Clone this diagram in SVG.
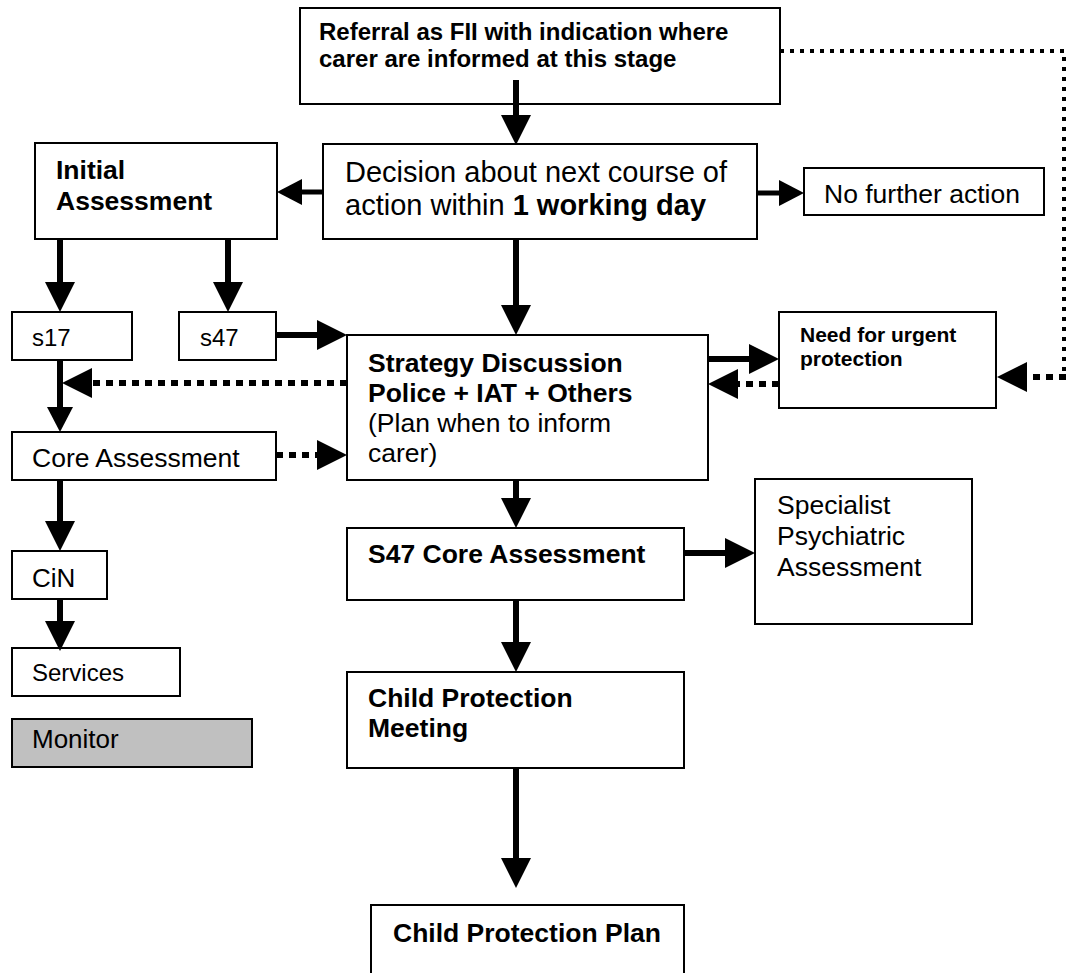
<svg xmlns="http://www.w3.org/2000/svg" width="1066" height="973" viewBox="0 0 1066 973">
<style>
  .box { fill: #ffffff; stroke: #000000; stroke-width: 2; }
  .grey { fill: #c0c0c0; }
  text { font-family: "Liberation Sans", Arial, sans-serif; fill: #000000; }
  .b { font-weight: bold; }
  .solid { fill: none; stroke: #000000; stroke-width: 6; }
  .thin { fill: none; stroke: #000000; stroke-width: 5; }
  .dot { fill: none; stroke: #000000; stroke-width: 6; stroke-dasharray: 7 6; }
  .dotthin { fill: none; stroke: #000000; stroke-width: 4; stroke-dasharray: 4 6; }
</style>
<defs>
  <marker id="big" markerUnits="userSpaceOnUse" viewBox="0 0 30 30" markerWidth="30" markerHeight="30" refX="0" refY="15" orient="auto" overflow="visible">
    <path d="M0,0 L30,15 L0,30 Z" fill="#000000"/>
  </marker>
  <marker id="small" markerUnits="userSpaceOnUse" viewBox="0 0 25 26" markerWidth="25" markerHeight="26" refX="0" refY="13" orient="auto" overflow="visible">
    <path d="M0,0 L25,13 L0,26 Z" fill="#000000"/>
  </marker>
</defs>
<rect x="0" y="0" width="1066" height="973" fill="#ffffff"/>

<g id="referral">
  <rect class="box" x="300" y="8" width="480" height="96"/>
  <text class="b" x="319" y="40" font-size="24">Referral as FII with indication where</text>
  <text class="b" x="319" y="67" font-size="24">carer are informed at this stage</text>
</g>
<g id="decision">
  <rect class="box" x="323" y="144" width="434" height="95"/>
  <text x="345" y="182" font-size="29">Decision about next course of</text>
  <text x="345" y="215" font-size="29">action within <tspan class="b">1 working day</tspan></text>
</g>
<g id="initial">
  <rect class="box" x="35" y="143" width="242" height="96"/>
  <text class="b" x="56" y="179" font-size="26.5">Initial</text>
  <text class="b" x="56" y="210" font-size="26.5">Assessment</text>
</g>
<g id="nfa">
  <rect class="box" x="804" y="168" width="240" height="47"/>
  <text x="824" y="203" font-size="26.5">No further action</text>
</g>
<g id="s17">
  <rect class="box" x="12" y="312" width="120" height="48"/>
  <text x="32" y="346" font-size="24">s17</text>
</g>
<g id="s47">
  <rect class="box" x="179" y="312" width="97" height="48"/>
  <text x="200" y="346" font-size="24">s47</text>
</g>
<g id="strategy">
  <rect class="box" x="347" y="335" width="361" height="145"/>
  <text class="b" x="368" y="372" font-size="26.5">Strategy Discussion</text>
  <text class="b" x="368" y="402" font-size="26.5">Police + IAT + Others</text>
  <text x="368" y="432" font-size="26.5">(Plan when to inform</text>
  <text x="368" y="462" font-size="26.5">carer)</text>
</g>
<g id="urgent">
  <rect class="box" x="779" y="312" width="217" height="96"/>
  <text class="b" x="800" y="342" font-size="21">Need for urgent</text>
  <text class="b" x="800" y="366" font-size="21">protection</text>
</g>
<g id="core">
  <rect class="box" x="12" y="432" width="264" height="48"/>
  <text x="32" y="467" font-size="26.5">Core Assessment</text>
</g>
<g id="cin">
  <rect class="box" x="12" y="551" width="95" height="48"/>
  <text x="32" y="587" font-size="26">CiN</text>
</g>
<g id="services">
  <rect class="box" x="12" y="648" width="168" height="48"/>
  <text x="32" y="681" font-size="24">Services</text>
</g>
<g id="monitor">
  <rect class="box grey" x="12" y="719" width="240" height="48"/>
  <text x="32" y="748" font-size="26">Monitor</text>
</g>
<g id="s47core">
  <rect class="box" x="347" y="528" width="337" height="72"/>
  <text class="b" x="368" y="563" font-size="26.5">S47 Core Assessment</text>
</g>
<g id="specialist">
  <rect class="box" x="755" y="479" width="217" height="145"/>
  <text x="777" y="514" font-size="26.5">Specialist</text>
  <text x="777" y="545" font-size="26.5">Psychiatric</text>
  <text x="777" y="576" font-size="26.5">Assessment</text>
</g>
<g id="cpm">
  <rect class="box" x="347" y="672" width="337" height="96"/>
  <text class="b" x="368" y="707" font-size="26.5">Child Protection</text>
  <text class="b" x="368" y="737" font-size="26.5">Meeting</text>
</g>
<g id="cpp">
  <rect class="box" x="371" y="905" width="313" height="80"/>
  <text class="b" x="393" y="942" font-size="26.5">Child Protection Plan</text>
</g>

<g id="connectors">
  <path class="solid" d="M516,80 V115" marker-end="url(#big)"/>
  <path class="thin" d="M323,192 H302" marker-end="url(#small)"/>
  <path class="thin" d="M757,193 H779" marker-end="url(#small)"/>
  <path class="solid" d="M516,239 V305" marker-end="url(#big)"/>
  <path class="solid" d="M60,239 V282" marker-end="url(#big)"/>
  <path class="solid" d="M228,239 V282" marker-end="url(#big)"/>
  <path class="solid" d="M276,335 H317" marker-end="url(#big)"/>
  <path class="dot" d="M347,383 H92" marker-end="url(#big)"/>
  <path class="solid" d="M60,360 V407" marker-end="url(#small)"/>
  <path class="dot" d="M276,455 H317" marker-end="url(#big)"/>
  <path class="solid" d="M60,480 V521" marker-end="url(#big)"/>
  <path class="solid" d="M60,599 V621" marker-end="url(#big)"/>
  <path class="solid" d="M708,359 H749" marker-end="url(#big)"/>
  <path class="dot" d="M779,384 H738" marker-end="url(#big)"/>
  <path class="dotthin" d="M780,51 H1064 V377"/>
  <path class="dot" d="M1066,377 H1027" marker-end="url(#big)"/>
  <path class="solid" d="M516,480 V498" marker-end="url(#big)"/>
  <path class="solid" d="M684,553 H725" marker-end="url(#big)"/>
  <path class="solid" d="M516,600 V642" marker-end="url(#big)"/>
  <path class="solid" d="M516,768 V858" marker-end="url(#big)"/>
</g>
</svg>
